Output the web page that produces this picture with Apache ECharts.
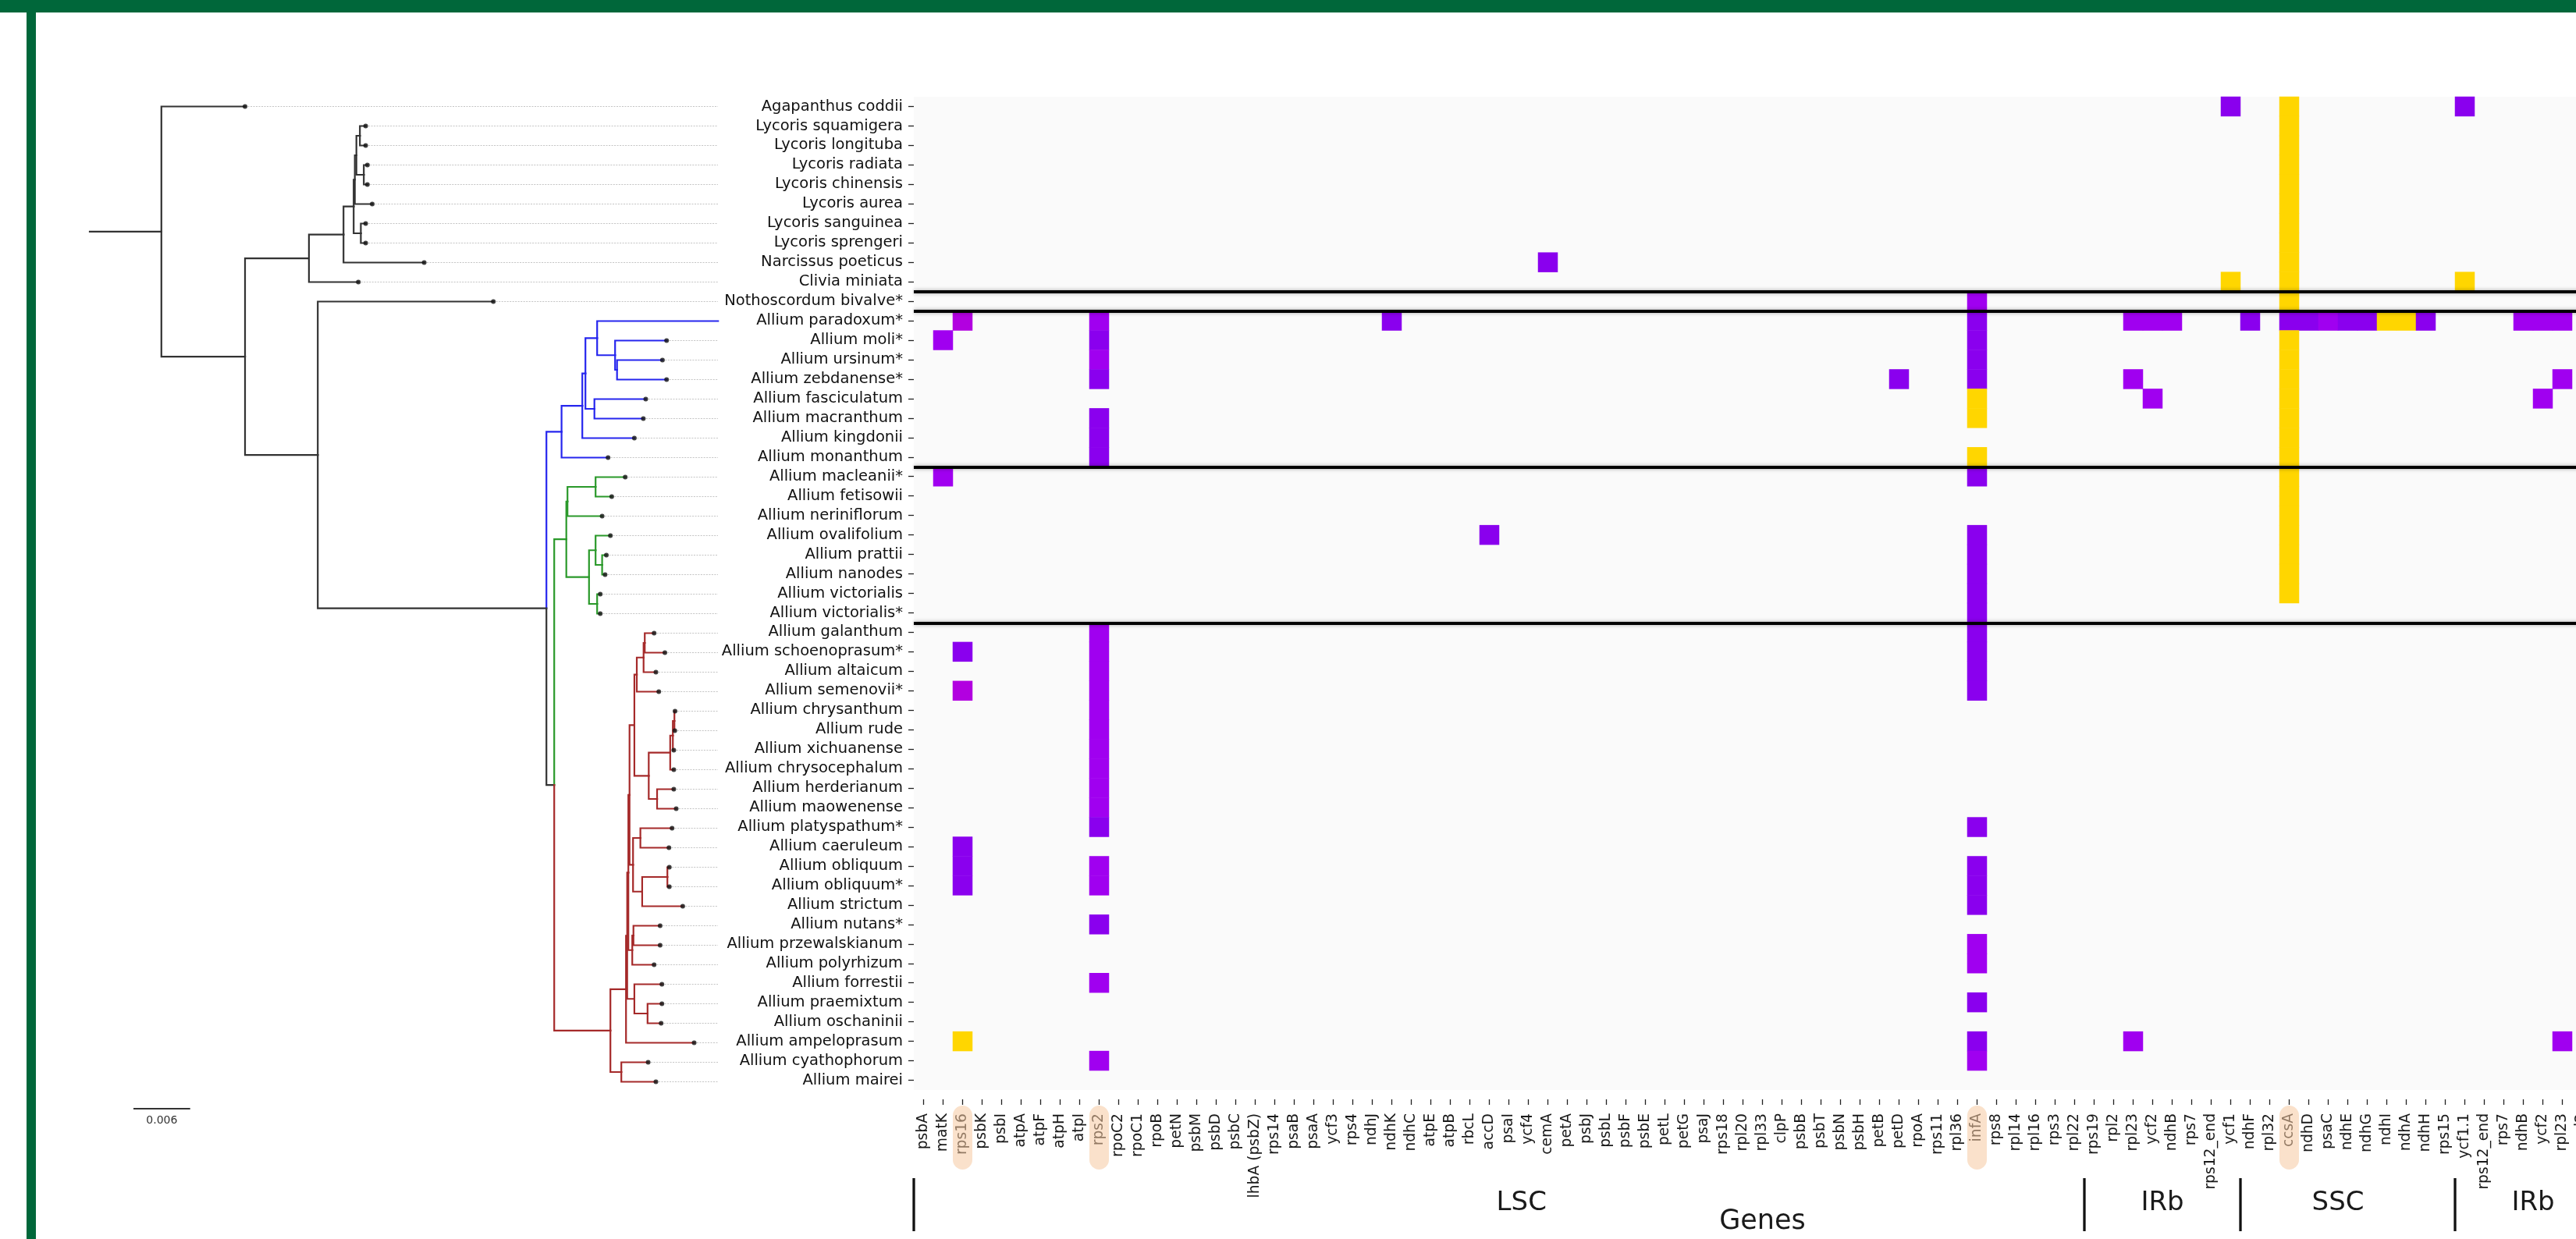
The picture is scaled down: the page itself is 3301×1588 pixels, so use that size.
<!DOCTYPE html>
<html>
<head>
<meta charset="utf-8">
<script src="https://cdn.jsdelivr.net/npm/echarts@6/dist/echarts.min.js"></script>
<style>
  html, body { margin: 0; padding: 0; background: #ffffff; overflow: hidden; }
  #chart { width: 3360px; height: 1588px; }
</style>
</head>
<body>
<div id="chart"></div>
<script>
// ---------------------------------------------------------------------------
// Data
// ---------------------------------------------------------------------------

// Species, top to bottom (tree tip order)
const species = [
  'Agapanthus coddii', 'Lycoris squamigera', 'Lycoris longituba', 'Lycoris radiata',
  'Lycoris chinensis', 'Lycoris aurea', 'Lycoris sanguinea', 'Lycoris sprengeri',
  'Narcissus poeticus', 'Clivia miniata', 'Nothoscordum bivalve*', 'Allium paradoxum*',
  'Allium moli*', 'Allium ursinum*', 'Allium zebdanense*', 'Allium fasciculatum',
  'Allium macranthum', 'Allium kingdonii', 'Allium monanthum', 'Allium macleanii*',
  'Allium fetisowii', 'Allium neriniflorum', 'Allium ovalifolium', 'Allium prattii',
  'Allium nanodes', 'Allium victorialis', 'Allium victorialis*', 'Allium galanthum',
  'Allium schoenoprasum*', 'Allium altaicum', 'Allium semenovii*', 'Allium chrysanthum',
  'Allium rude', 'Allium xichuanense', 'Allium chrysocephalum', 'Allium herderianum',
  'Allium maowenense', 'Allium platyspathum*', 'Allium caeruleum', 'Allium obliquum',
  'Allium obliquum*', 'Allium strictum', 'Allium nutans*', 'Allium przewalskianum',
  'Allium polyrhizum', 'Allium forrestii', 'Allium praemixtum', 'Allium oschaninii',
  'Allium ampeloprasum', 'Allium cyathophorum', 'Allium mairei'
];

// Genes in plastome order (LSC, IRb, SSC, IRb)
const genes = [
  'psbA', 'matK', 'rps16', 'psbK', 'psbI', 'atpA', 'atpF', 'atpH', 'atpI', 'rps2',
  'rpoC2', 'rpoC1', 'rpoB', 'petN', 'psbM', 'psbD', 'psbC', 'lhbA (psbZ)', 'rps14', 'psaB',
  'psaA', 'ycf3', 'rps4', 'ndhJ', 'ndhK', 'ndhC', 'atpE', 'atpB', 'rbcL', 'accD',
  'psaI', 'ycf4', 'cemA', 'petA', 'psbJ', 'psbL', 'psbF', 'psbE', 'petL', 'petG',
  'psaJ', 'rps18', 'rpl20', 'rpl33', 'clpP', 'psbB', 'psbT', 'psbN', 'psbH', 'petB',
  'petD', 'rpoA', 'rps11', 'rpl36', 'infA', 'rps8', 'rpl14', 'rpl16', 'rps3', 'rpl22',
  'rps19', 'rpl2', 'rpl23', 'ycf2', 'ndhB', 'rps7', 'rps12_end', 'ycf1', 'ndhF', 'rpl32',
  'ccsA', 'ndhD', 'psaC', 'ndhE', 'ndhG', 'ndhI', 'ndhA', 'ndhH', 'rps15', 'ycf1.1',
  'rps12_end', 'rps7', 'ndhB', 'ycf2', 'rpl23', 'rpl2', 'rps19'
];

// Genes singled out below the axis
const highlightedGenes = [2, 9, 54, 70];   // rps16, rps2, infA, ccsA

// Plastome regions: [name, first gene index, label anchor (gene units)]
const regions = [
  ['LSC', 0, 30.65],
  ['IRb', 60, 63.5],
  ['SSC', 68, 72.5],
  ['IRb', 79, 82.5]
];

// Horizontal rules are drawn under these species
const groupBreaks = ['Clivia miniata', 'Nothoscordum bivalve*', 'Allium monanthum', 'Allium victorialis*'];

// Per-species gene states: [gene index, state]; 'Y' = yellow state, 1..3 = purple shades
const cellStates = [
  ['Agapanthus coddii', [[67, 1], [70, 'Y'], [79, 1]]],
  ['Lycoris squamigera', [[70, 'Y']]],
  ['Lycoris longituba', [[70, 'Y']]],
  ['Lycoris radiata', [[70, 'Y']]],
  ['Lycoris chinensis', [[70, 'Y']]],
  ['Lycoris aurea', [[70, 'Y']]],
  ['Lycoris sanguinea', [[70, 'Y']]],
  ['Lycoris sprengeri', [[70, 'Y']]],
  ['Narcissus poeticus', [[32, 1], [70, 'Y']]],
  ['Clivia miniata', [[67, 'Y'], [70, 'Y'], [79, 'Y']]],
  ['Nothoscordum bivalve*', [[54, 2], [70, 'Y']]],
  ['Allium paradoxum*', [[2, 3], [9, 2], [24, 1], [54, 1], [62, 2], [63, 2], [64, 2], [68, 1],
                         [70, 1], [71, 1], [72, 2], [73, 1], [74, 1], [75, 'Y'], [76, 'Y'], [77, 1],
                         [82, 2], [83, 2], [84, 2]]],
  ['Allium moli*', [[1, 2], [9, 1], [54, 1], [70, 'Y']]],
  ['Allium ursinum*', [[9, 2], [54, 1], [70, 'Y']]],
  ['Allium zebdanense*', [[9, 1], [50, 1], [54, 1], [62, 2], [70, 'Y'], [84, 2]]],
  ['Allium fasciculatum', [[54, 'Y'], [63, 2], [70, 'Y'], [83, 2]]],
  ['Allium macranthum', [[9, 1], [54, 'Y'], [70, 'Y']]],
  ['Allium kingdonii', [[9, 1], [70, 'Y']]],
  ['Allium monanthum', [[9, 1], [54, 'Y'], [70, 'Y']]],
  ['Allium macleanii*', [[1, 2], [54, 1], [70, 'Y']]],
  ['Allium fetisowii', [[70, 'Y']]],
  ['Allium neriniflorum', [[70, 'Y']]],
  ['Allium ovalifolium', [[29, 1], [54, 1], [70, 'Y']]],
  ['Allium prattii', [[54, 1], [70, 'Y']]],
  ['Allium nanodes', [[54, 1], [70, 'Y']]],
  ['Allium victorialis', [[54, 1], [70, 'Y']]],
  ['Allium victorialis*', [[54, 1]]],
  ['Allium galanthum', [[9, 2], [54, 1]]],
  ['Allium schoenoprasum*', [[2, 1], [9, 2], [54, 1]]],
  ['Allium altaicum', [[9, 2], [54, 1]]],
  ['Allium semenovii*', [[2, 3], [9, 2], [54, 1]]],
  ['Allium chrysanthum', [[9, 2]]],
  ['Allium rude', [[9, 2]]],
  ['Allium xichuanense', [[9, 2]]],
  ['Allium chrysocephalum', [[9, 2]]],
  ['Allium herderianum', [[9, 2]]],
  ['Allium maowenense', [[9, 2]]],
  ['Allium platyspathum*', [[9, 1], [54, 1]]],
  ['Allium caeruleum', [[2, 1]]],
  ['Allium obliquum', [[2, 1], [9, 2], [54, 1]]],
  ['Allium obliquum*', [[2, 1], [9, 2], [54, 1]]],
  ['Allium strictum', [[54, 1]]],
  ['Allium nutans*', [[9, 1]]],
  ['Allium przewalskianum', [[54, 2]]],
  ['Allium polyrhizum', [[54, 2]]],
  ['Allium forrestii', [[9, 2]]],
  ['Allium praemixtum', [[54, 1]]],
  ['Allium ampeloprasum', [[2, 'Y'], [54, 1], [62, 2], [84, 2]]],
  ['Allium cyathophorum', [[9, 2], [54, 2]]]
];

// Phylogeny (Newick, branch lengths in substitutions/site); clade names set branch colours
const treeNewick = `
(Agapanthus_coddii:0.008847,
 ((((((( Lycoris_squamigera:0.000611,Lycoris_longituba:0.000611):0.000371,
        (Lycoris_radiata:0.000380,Lycoris_chinensis:0.000380):0.000784):0.000165,
       Lycoris_aurea:0.001840):0.000124,
      (Lycoris_sanguinea:0.000512,Lycoris_sprengeri:0.000512):0.000759):0.001073,
     Narcissus_poeticus:0.008533):0.003656,
    Clivia_miniata:0.005224):0.006759,
  (Nothoscordum_bivalve*:0.018569,
   (((((Allium_paradoxum*:0.012792,
        (Allium_moli*:0.005447,(Allium_ursinum*:0.004803,Allium_zebdanense*:0.005241):0.000206):0.001898):0.001238,
       (Allium_fasciculatum:0.005430,Allium_macranthum:0.005175):0.000949):0.000330,
      Allium_kingdonii:0.005505):0.002195,
     Allium_monanthum:0.004919)blue:0.001601,
    ((((Allium_macleanii*:0.003136,Allium_fetisowii:0.001708):0.002971,Allium_neriniflorum:0.003664):0.000124,
      ((Allium_ovalifolium:0.001568,(Allium_prattii:0.000446,Allium_nanodes:0.000314):0.000693):0.000693,
       (Allium_victorialis:0.000330,Allium_victorialis*:0.000330):0.000858):0.002402)green:0.001279,
     (((((((((Allium_galanthum:0.000990,Allium_schoenoprasum*:0.002129):0.000124,Allium_altaicum:0.001304):0.000718,
             Allium_semenovii*:0.002327):0.000256,
            ((((Allium_chrysanthum:0.000066,Allium_rude:0.000041):0.000165,Allium_xichuanense:0.000099):0.000281,
              Allium_chrysocephalum:0.000380):0.002270,
             (Allium_herderianum:0.001766,Allium_maowenense:0.002022):0.000883):0.001519):0.000512,
           ((Allium_platyspathum*:0.003351,Allium_caeruleum:0.003021):0.000776,
            ((Allium_obliquum:0.000206,Allium_obliquum*:0.000206):0.002666,Allium_strictum:0.004291):0.000966):0.000371):0.000124,
          ((Allium_nutans*:0.002822,Allium_przewalskianum:0.002822):0.000124,Allium_polyrhizum:0.002311):0.000413):0.000124,
         (Allium_forrestii:0.002913,(Allium_praemixtum:0.001519,Allium_oschaninii:0.001436):0.001395):0.000759):0.000124,
        Allium_ampeloprasum:0.007205):0.001651,
       (Allium_cyathophorum:0.002839,Allium_mairei:0.003656):0.001155)red:0.005942):0.000825):0.024181):0.007692):0.008847):0.007576;`;

// Length shown by the tree scale bar
const scaleBarLength = 0.006;

// ---------------------------------------------------------------------------
// Layout and styling
// ---------------------------------------------------------------------------
const FONT = 'DejaVu Sans';
const CELL = 25;
const CANVAS_W = 3360, CANVAS_H = 1588;   // the last heatmap columns run past the visible page edge
const HEAT = { left: 1171, top: 124, width: genes.length * CELL, height: species.length * CELL };
const TREE = { left: 115, top: 124, width: 805, height: species.length * CELL };
const PX_PER_UNIT = 12117;            // tree horizontal scale
const STATE_COLORS = { Y: '#FFD600', 1: '#8A00EE', 2: '#A000F0', 3: '#B200E0' };
const CLADE_COLORS = { blue: '#2626EE', green: '#2A992A', red: '#A52A2A' };
const TREE_COLOR = '#333333';
const FRAME_GREEN = '#00673A';

// ---------------------------------------------------------------------------
// Tree parsing and layout
// ---------------------------------------------------------------------------
function parseNewick(text) {
  const s = text.replace(/\s+/g, '');
  let i = 0;
  function node() {
    const n = { children: [], name: '', len: 0 };
    if (s[i] === '(') {
      i++;
      n.children.push(node());
      while (s[i] === ',') { i++; n.children.push(node()); }
      i++; // closing ')'
    }
    let start = i;
    while (i < s.length && !':,();'.includes(s[i])) i++;
    n.name = s.slice(start, i);
    if (s[i] === ':') {
      i++; start = i;
      while (i < s.length && !',();'.includes(s[i])) i++;
      n.len = parseFloat(s.slice(start, i));
    }
    return n;
  }
  return node();
}

const treeRoot = parseNewick(treeNewick);

function placeNodes(n, parentX, color) {
  n.x = parentX + n.len;
  n.color = CLADE_COLORS[n.name] || color;
  if (n.children.length) {
    n.children.forEach(c => placeNodes(c, n.x, n.color));
    n.y = (n.children[0].y + n.children[n.children.length - 1].y) / 2;
  } else {
    n.label = n.name.replace(/_/g, ' ');
    n.y = species.indexOf(n.label);
  }
}
placeNodes(treeRoot, 0, TREE_COLOR);

const branchData = [{ coords: [[0, treeRoot.y], [treeRoot.x, treeRoot.y]], lineStyle: { color: treeRoot.color } }];
const tipData = [];
(function collect(n) {
  n.children.forEach(c => {
    branchData.push({
      coords: [[n.x, n.y], [n.x, c.y], [c.x, c.y]],
      lineStyle: { color: c.color }
    });
    collect(c);
  });
  if (!n.children.length) tipData.push([n.x, n.y]);
})(treeRoot);

const treeXMax = TREE.width / PX_PER_UNIT;
const leaderData = tipData.map(t => ({ coords: [[t[0], t[1]], [treeXMax, t[1]]] }));

// ---------------------------------------------------------------------------
// Heatmap cells
// ---------------------------------------------------------------------------
const heatData = [];
cellStates.forEach(([name, list]) => {
  const row = species.indexOf(name);
  list.forEach(([g, state]) => heatData.push([g, row, state === 'Y' ? 0 : state]));
});

const separatorData = groupBreaks.map(name => {
  const y = species.indexOf(name) + 0.5;
  return { coords: [[-0.5, y], [genes.length - 0.5, y]] };
});

// ---------------------------------------------------------------------------
// Chart
// ---------------------------------------------------------------------------
const chart = echarts.init(document.getElementById('chart'), null, { renderer: 'canvas', width: CANVAS_W, height: CANVAS_H });

const option = {
  animation: false,
  backgroundColor: '#ffffff',
  graphic: [
    { type: 'rect', left: 0, top: 0, shape: { width: CANVAS_W, height: 16 }, style: { fill: FRAME_GREEN }, z: 100 },
    { type: 'rect', left: 34, top: 0, shape: { width: 12, height: CANVAS_H }, style: { fill: FRAME_GREEN }, z: 100 }
  ],
  grid: [
    { left: TREE.left, top: TREE.top, width: TREE.width, height: TREE.height, show: false },
    { left: HEAT.left, top: HEAT.top, width: HEAT.width, height: HEAT.height, show: true,
      backgroundColor: '#fafafa', borderWidth: 0 },
    { left: HEAT.left, top: HEAT.top, width: HEAT.width, height: HEAT.height, show: false }
  ],
  xAxis: [
    { gridIndex: 0, type: 'value', min: 0, max: treeXMax, show: false },
    {
      gridIndex: 1, type: 'category', data: genes, position: 'bottom', offset: 12,
      axisLine: { show: false },
      axisTick: { show: true, alignWithLabel: true, interval: 0, length: 7, lineStyle: { color: '#222', width: 1.3 } },
      axisLabel: { interval: 0, rotate: 90, margin: 18, fontSize: 18.7, fontFamily: FONT, color: '#1a1a1a' },
      splitLine: { show: false },
      name: 'Genes', nameLocation: 'middle', nameGap: 139,
      nameTextStyle: { fontSize: 35, fontFamily: FONT, color: '#1a1a1a' }
    },
    { gridIndex: 2, type: 'value', min: -0.5, max: genes.length - 0.5, show: false }
  ],
  yAxis: [
    { gridIndex: 0, type: 'value', min: -0.5, max: species.length - 0.5, inverse: true, show: false },
    {
      gridIndex: 1, type: 'category', data: species, inverse: true,
      axisLine: { show: false },
      axisTick: { show: true, alignWithLabel: true, interval: 0, length: 7, lineStyle: { color: '#222', width: 1.3 } },
      axisLabel: { interval: 0, margin: 14, fontSize: 19.5, fontFamily: FONT, color: '#111' },
      splitLine: { show: false }
    },
    { gridIndex: 2, type: 'value', min: -0.5, max: species.length - 0.5, inverse: true, show: false }
  ],
  visualMap: {
    type: 'piecewise', show: false, seriesIndex: 0, dimension: 2,
    pieces: [
      { value: 0, color: STATE_COLORS.Y },
      { value: 1, color: STATE_COLORS[1] },
      { value: 2, color: STATE_COLORS[2] },
      { value: 3, color: STATE_COLORS[3] }
    ]
  },
  series: [
    {
      type: 'heatmap', xAxisIndex: 1, yAxisIndex: 1, data: heatData,
      itemStyle: { borderWidth: 0 }, emphasis: { disabled: true }, silent: true, z: 2
    },
    {
      type: 'lines', coordinateSystem: 'cartesian2d', xAxisIndex: 2, yAxisIndex: 2,
      data: separatorData, silent: true, z: 4,
      lineStyle: { color: '#000', width: 4, opacity: 1, shadowBlur: 5, shadowColor: 'rgba(0,0,0,0.35)' }
    },
    {
      type: 'custom', coordinateSystem: 'cartesian2d', xAxisIndex: 2, yAxisIndex: 2, silent: true, z: 4,
      data: regions.map(r => [r[1], r[2]]),
      renderItem: (params, api) => {
        const r = regions[params.dataIndex];
        const xLine = api.coord([r[1] - 0.5, 0])[0];
        const xText = api.coord([r[2], 0])[0];
        return {
          type: 'group',
          children: [
            { type: 'line', shape: { x1: xLine, y1: 1510, x2: xLine, y2: 1578 },
              style: { stroke: '#111', lineWidth: 3.3 } },
            { type: 'text', x: xText, y: 1542,
              style: { text: r[0], fill: '#1a1a1a', font: '34px "DejaVu Sans"', align: 'center', verticalAlign: 'middle' } }
          ]
        };
      }
    },
    {
      type: 'custom', coordinateSystem: 'cartesian2d', xAxisIndex: 2, yAxisIndex: 2, silent: true, z: 10,
      data: highlightedGenes.map(g => [g, 0]),
      renderItem: (params, api) => {
        const cx = api.coord([api.value(0), 0])[0];
        return {
          type: 'rect',
          shape: { x: cx - CELL / 2, y: 1417, width: CELL, height: 82, r: CELL / 2 },
          style: { fill: 'rgba(246,200,160,0.55)' }
        };
      }
    },
    {
      type: 'lines', coordinateSystem: 'cartesian2d', xAxisIndex: 0, yAxisIndex: 0,
      data: leaderData, silent: true, z: 2,
      lineStyle: { color: '#c4c4c4', width: 1, opacity: 1, type: [2, 1.5] }
    },
    {
      type: 'lines', coordinateSystem: 'cartesian2d', xAxisIndex: 0, yAxisIndex: 0, polyline: true,
      data: branchData, silent: true, z: 3,
      lineStyle: { width: 2.2, opacity: 1, cap: 'square', join: 'miter' }
    },
    {
      type: 'scatter', xAxisIndex: 0, yAxisIndex: 0, data: tipData, symbol: 'circle', symbolSize: 6,
      itemStyle: { color: '#111' }, silent: true, z: 4
    },
    {
      type: 'custom', coordinateSystem: 'cartesian2d', xAxisIndex: 0, yAxisIndex: 0, silent: true, z: 4,
      data: [[scaleBarLength, 0]],
      renderItem: (params, api) => {
        const w = api.size([api.value(0), 0])[0];
        const x0 = 171, y0 = 1421;
        return {
          type: 'group',
          children: [
            { type: 'line', shape: { x1: x0, y1: y0, x2: x0 + w, y2: y0 }, style: { stroke: '#333', lineWidth: 2 } },
            { type: 'text', x: x0 + w / 2, y: y0 + 8,
              style: { text: String(api.value(0)), fill: '#333', font: '14px "DejaVu Sans"', align: 'center', verticalAlign: 'top' } }
          ]
        };
      }
    }
  ]
};

chart.setOption(option);
</script>
</body>
</html>
